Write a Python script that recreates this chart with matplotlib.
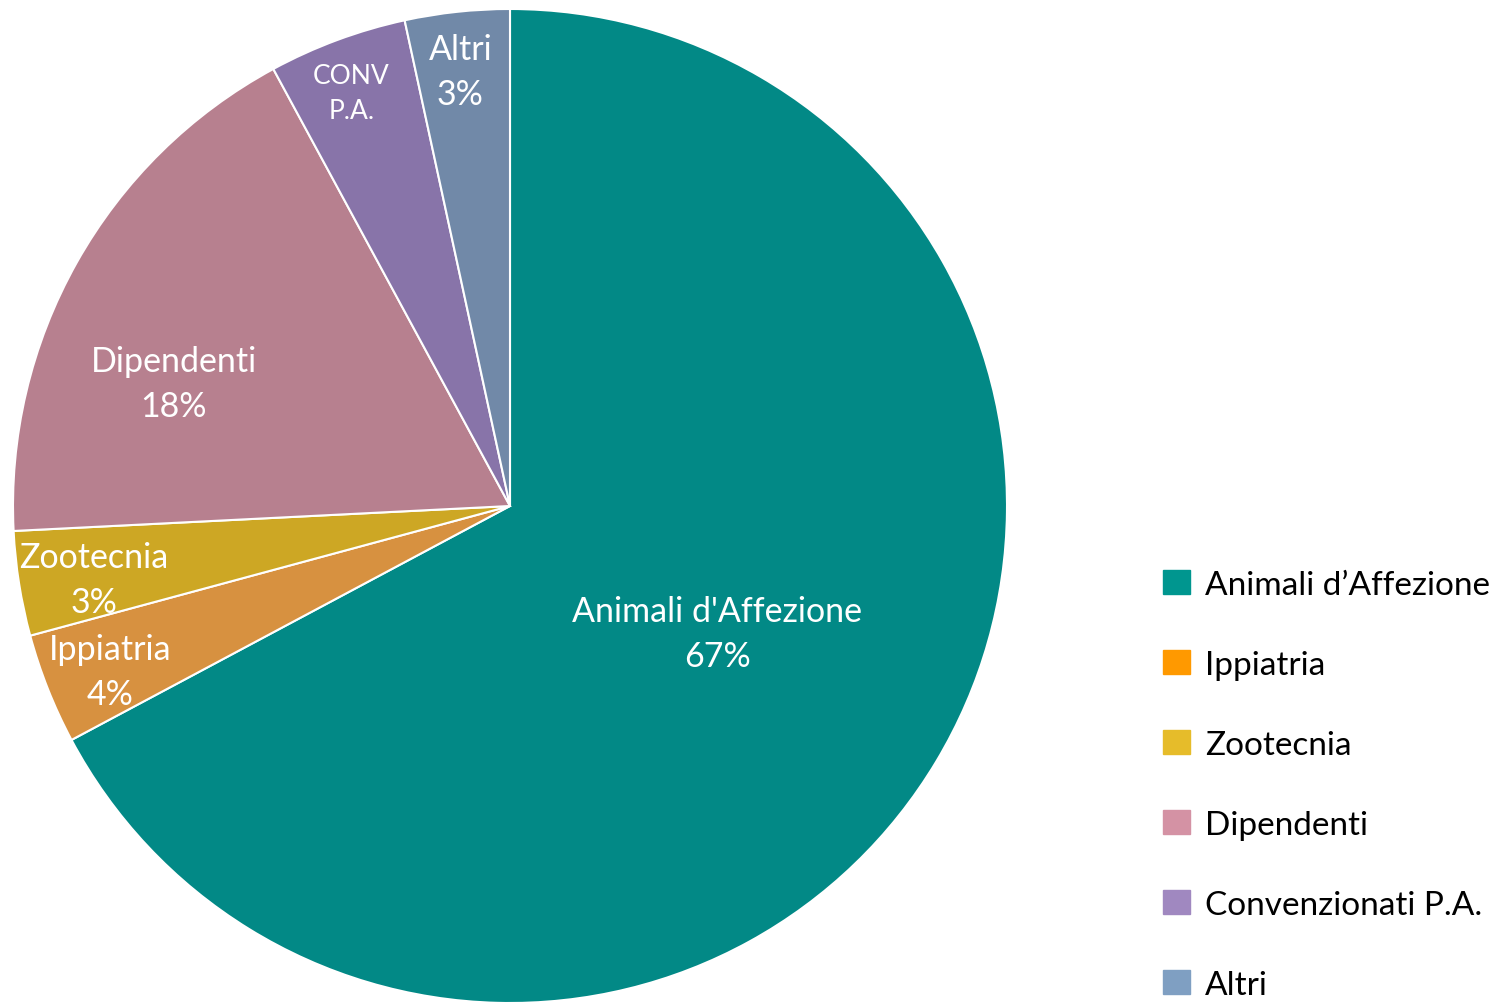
import numpy as np
import matplotlib.pyplot as plt
from matplotlib.patches import Patch

categorie = ["Animali d'Affezione", "Ippiatria", "Zootecnia", "Dipendenti", "CONV\nP.A.", "Altri"]
legenda = ["Animali d\u2019Affezione", "Ippiatria", "Zootecnia", "Dipendenti", "Convenzionati P.A.", "Altri"]
valori = [67.2, 3.6, 3.4, 17.9, 4.5, 3.4]
etichette_pct = ["67%", "4%", "3%", "18%", "", "3%"]

colori = ["#028986", "#D79140", "#CDA724", "#B7808F", "#8874A9", "#7189A8"]
colori_legenda = ["#00968F", "#FF9900", "#E6BC2A", "#D492A4", "#A088C0", "#7F9FC2"]

# posizione etichette: (raggio, angolo in gradi)
pos_etichette = [(0.49, -31.6), (0.87, 202.5), (0.85, 190.0), (0.72, 160.0), (0.89, 111.0), (0.88, 96.5)]

plt.rcParams['font.family'] = ['Lato', 'DejaVu Sans']

fig = plt.figure(figsize=(15.02, 10.04), dpi=100)
ax = fig.add_axes([13 / 1502, 0, 994 / 1502, 994 / 1004])

ax.pie(valori, colors=colori, startangle=90, counterclock=False,
       wedgeprops=dict(edgecolor="white", linewidth=1.5))
ax.set_xlim(-1, 1)
ax.set_ylim(-1, 1)
ax.set_aspect("equal")

for nome, pct, (r, a) in zip(categorie, etichette_pct, pos_etichette):
    x = r * np.cos(np.radians(a))
    y = r * np.sin(np.radians(a))
    testo = nome if pct == "" else nome + "\n" + pct
    fs = 19 if pct == "" else 24.5
    ax.text(x, y, testo, ha="center", va="center", color="white",
            fontsize=fs, linespacing=1.5)

handles = [Patch(facecolor=c, edgecolor=c) for c in colori_legenda]
fig.legend(handles, legenda, loc="upper left", bbox_to_anchor=(1163 / 1502, 1 - 571 / 1004),
           frameon=False, fontsize=24, labelspacing=1.5, handlelength=0.82, handleheight=0.72,
           handletextpad=0.45, borderpad=0, borderaxespad=0)

plt.savefig("out.png", dpi=100)
